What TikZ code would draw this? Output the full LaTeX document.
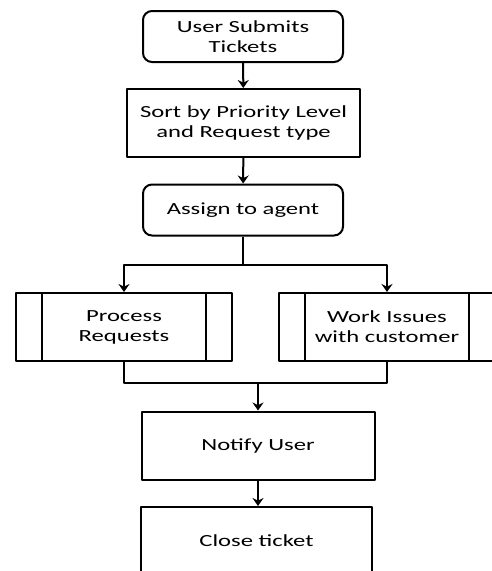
\documentclass[tikz,border=0pt]{standalone}
\usepackage{fontspec}
\usetikzlibrary{arrows.meta}
\newfontfamily\flowfont[FakeStretch=1.45]{Carlito}
\tikzset{
	stepround/.style={draw, rounded corners=9pt, minimum width=200pt, minimum height=51pt, align=center},
	stepbox/.style={draw, minimum width=233pt, minimum height=68pt, align=center},
	subproc/.style={draw, minimum width=216pt, minimum height=68pt, align=center}
}
\begin{document}
\begin{tikzpicture}[x=1pt,y=-1pt,>={Stealth[length=8pt,width=11pt]}, line width=2pt, line join=round,
	font=\flowfont\fontsize{17}{20}\selectfont]
	\useasboundingbox (0,0) rectangle (492,571);
	\def\bar{27} % inner bars of the sub-process boxes
	\node[stepround] (submit) at (243,36.5) {User Submits\\Tickets};
	\node[stepbox] (sort) at (243.5,123) {Sort by Priority Level\\and Request type};
	\node[stepround] (assign) at (243,210) {Assign to agent};
	\node[subproc] (process) at (124,327) {Process\\Requests};
	\node[subproc] (work) at (387,327) {Work Issues\\with customer};
	\node[stepbox] (notify) at (258,445.5) {Notify User};
	\node[stepbox, minimum width=231pt, minimum height=67pt] (close) at (256.5,540.5) {Close ticket};
	\foreach \n in {process,work}{
		\draw ([xshift=\bar]\n.north west)--([xshift=\bar]\n.south west);
		\draw ([xshift=-\bar]\n.north east)--([xshift=-\bar]\n.south east);
	}
	% split after the agent is assigned
	\coordinate (split) at (243,265);
	\coordinate (merge) at (258,383);
	\draw[->] (submit)--(sort);
	\draw[->] (sort)--(assign);
	\draw (assign.south)--(split);
	\draw[->] (split)-|(process.north);
	\draw[->] (split)-|(work.north);
	\draw (process.south)|-(merge)-|(work.south);
	\draw[->] (merge)--(notify.north);
	\draw[->] (notify)--(notify|-close.north);
\end{tikzpicture}
\end{document}
